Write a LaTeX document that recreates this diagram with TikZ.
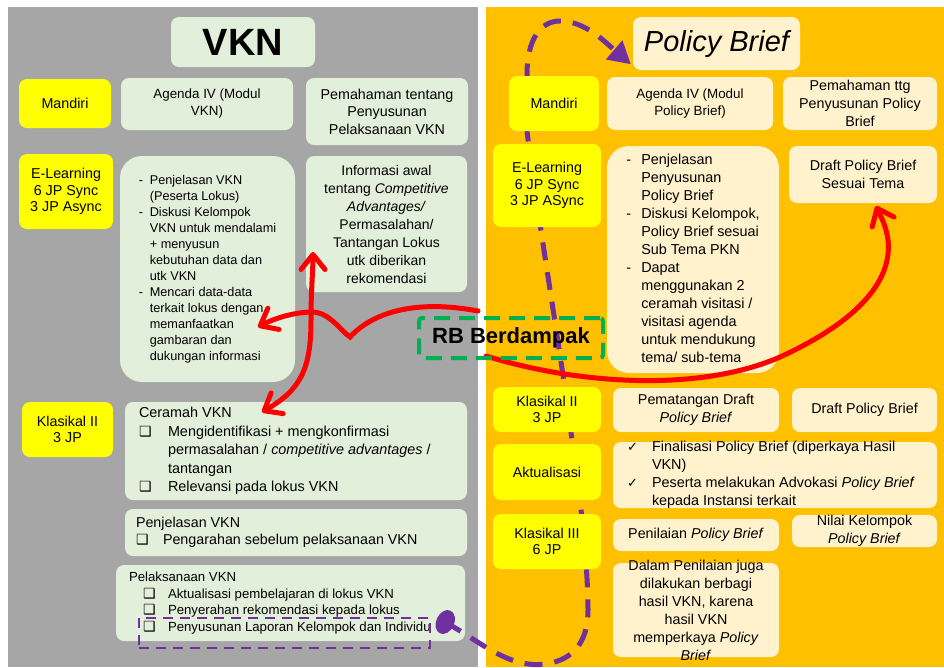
\documentclass[tikz,border=0pt]{standalone}
\usepackage{fontspec}
\setmainfont{Liberation Sans}
\newfontfamily\dejavu{DejaVu Sans}
\usetikzlibrary{arrows.meta,calc}
\definecolor{greyc}{HTML}{A6A6A6}
\definecolor{orc}{HTML}{FFC000}
\definecolor{lgc}{HTML}{E2EFDA}
\definecolor{crc}{HTML}{FFF2CC}
\definecolor{yelc}{HTML}{FFFF00}
\definecolor{purc}{HTML}{7030A0}
\definecolor{grnc}{HTML}{00B050}
\definecolor{redc}{HTML}{FF0000}
\newcommand{\fsz}[2]{\fontsize{#1}{#2}\selectfont}
\newcommand{\cbx}{{\dejavu\bfseries\fontsize{14}{14}\selectfont\char"2751}}
\newcommand{\ckm}{{\dejavu\fontsize{13}{13}\selectfont\char"2713}}
\begin{document}
\begin{tikzpicture}[x=1pt,y=-1pt]
\tikzset{
 base/.style={rounded corners=8pt, inner sep=1pt},
 ylw/.style={base, fill=yelc, align=center, font=\fsz{14.3}{16.5}},
 grn/.style={base, fill=lgc, align=center, font=\fsz{14.3}{17.5}},
 crm/.style={base, fill=crc, align=center, font=\fsz{14.3}{18}},
 grnL/.style={base, fill=lgc},
 crmL/.style={base, fill=crc},
 barb/.tip={Straight Barb[length=15pt,width=24pt,round]},
 redline/.style={draw=redc, line width=5pt, line cap=round},
 purline/.style={draw=purc, line width=5pt, dash pattern=on 18pt off 12pt, -{Triangle[length=22pt,width=24pt]}},
}
\fill[white] (0,0) rectangle (944,667);
\useasboundingbox (0,0) rectangle (944,667);
\fill[greyc] (8,7) rectangle (478,667);
\fill[orc] (486,7) rectangle (944,667);

% ---------- left panel ----------
\node[grn, minimum width=144pt, minimum height=50pt, font=\bfseries\fsz{38}{40}] (vkn) at (243,42) {VKN};
\node[ylw, minimum width=92pt, minimum height=49pt] (mandL) at (65,103.5) {Mandiri};
\node[grn, minimum width=172pt, minimum height=52pt, font=\fsz{13.4}{17}] (agL) at (207,104) {Agenda IV (Modul\\VKN)};
\node[grn, minimum width=162pt, minimum height=67pt] (pemL) at (387,111.5) {Pemahaman tentang\\Penyusunan\\Pelaksanaan VKN};
\node[ylw, minimum width=94pt, minimum height=75pt] (elL) at (66,191.5) {E-Learning\\6 JP Sync\\3 JP Async};
\node[grnL, rounded corners=22pt, minimum width=175pt, minimum height=226pt, font=\fsz{12.7}{16}] (listL) at (207.5,269) {\begin{tabular}{@{}p{11pt}@{}l@{}}
-&Penjelasan VKN\\
&(Peserta Lokus)\\
-&Diskusi Kelompok\\
&VKN untuk mendalami\\
&+ menyusun\\
&kebutuhan data dan\\
&utk VKN\\
-&Mencari data-data\\
&terkait lokus dengan\\
&memanfaatkan\\
&gambaran dan\\
&dukungan informasi
\end{tabular}};
\node[grn, minimum width=161pt, minimum height=136pt, font=\fsz{14}{18}] (infoL) at (386.5,224) {Informasi awal\\tentang \textit{Competitive}\\\textit{Advantages/}\\Permasalahan/\\Tantangan Lokus\\utk diberikan\\rekomendasi};
\node[ylw, minimum width=91pt, minimum height=55pt] (klL) at (67.5,429.5) {Klasikal II\\3 JP};
\node[grnL, minimum width=342pt, minimum height=98pt, inner ysep=-3pt, font=\fsz{14.4}{18.5}] (cerL) at (296,451) {\begin{tabular}{@{}p{29pt}@{}p{285pt}@{}}
\multicolumn{2}{@{}l@{}}{Ceramah VKN}\\
\cbx & Mengidentifikasi + mengkonfirmasi\\
& permasalahan / \textit{competitive advantages} /\\
& tantangan\\
\cbx & Relevansi pada lokus VKN
\end{tabular}};
\node[grnL, minimum width=342pt, minimum height=47pt, font=\fsz{14.3}{17}] (penjL) at (296,532.5) {\begin{tabular}{@{}p{27pt}@{}p{293pt}@{}}
\multicolumn{2}{@{}l@{}}{Penjelasan VKN}\\
\cbx & Pengarahan sebelum pelaksanaan VKN
\end{tabular}};
\node[grnL, minimum width=349pt, minimum height=76pt, font=\fsz{13.2}{16.5}] (pelL) at (290.5,603) {\begin{tabular}{@{}p{14pt}@{}p{25pt}@{}p{284pt}@{}}
\multicolumn{3}{@{}l@{}}{Pelaksanaan VKN}\\
&\cbx & Aktualisasi pembelajaran di lokus VKN\\
&\cbx & Penyerahan rekomendasi kepada lokus\\
&\cbx & Penyusunan Laporan Kelompok dan Individu
\end{tabular}};
\node[draw=purc, line width=2.5pt, dash pattern=on 10pt off 7pt, minimum width=291pt, minimum height=30pt, inner sep=0pt] (lap) at (284.5,633) {};

% ---------- right title ----------
\node[crm, minimum width=167pt, minimum height=53pt, font=\itshape\fsz{29}{32}] (pbt) at (716.5,43.5) {Policy Brief};

% ---------- purple connector ----------
\coordinate (ptail) at ($(lap.east)+(14,-11)$);
\coordinate (pend) at ($(pbt.south west)+(-2,-6)$);
\draw[purline] (ptail) -- (462,632) .. controls (490,650) and (515,668) .. (545,664) .. controls (575,660) and (588,640) .. (588,610) .. controls (588,560) and (578,480) .. (572,440) .. controls (562,360) and (535,200) .. (527,131) -- (527,75) .. controls (527,40) and (540,21) .. (560,21) .. controls (585,21) and (605,42) .. (pend);
\fill[purc, rotate around={-25:(ptail)}] (ptail) ellipse [x radius=9pt, y radius=12.5pt];

% ---------- right panel ----------
\node[ylw, minimum width=90pt, minimum height=55pt] (mandR) at (554,103.5) {Mandiri};
\node[crm, minimum width=166pt, minimum height=53pt, font=\fsz{13.4}{17}] (agR) at (690,103.5) {Agenda IV (Modul\\Policy Brief)};
\node[crm, minimum width=154pt, minimum height=53pt, inner ysep=-1pt, font=\fsz{14.3}{17.7}] (pemR) at (860,103.5) {Pemahaman ttg\\Penyusunan Policy\\Brief};
\node[ylw, minimum width=108pt, minimum height=83pt] (elR) at (547,185.5) {E-Learning\\6 JP Sync\\3 JP ASync};
\node[crmL, rounded corners=22pt, minimum width=172pt, minimum height=227pt, font=\fsz{14.4}{18}] (listR) at (693,259.5) {\begin{tabular}{@{}p{15pt}@{}l@{}}
-&Penjelasan\\
&Penyusunan\\
&Policy Brief\\
-&Diskusi Kelompok,\\
&Policy Brief sesuai\\
&Sub Tema PKN\\
-&Dapat\\
&menggunakan 2\\
&ceramah visitasi /\\
&visitasi agenda\\
&untuk mendukung\\
&tema/ sub-tema
\end{tabular}};
\node[crm, minimum width=148pt, minimum height=57pt] (draftT) at (863,174.5) {Draft Policy Brief\\Sesuai Tema};
\node[ylw, minimum width=108pt, minimum height=45pt] (klR) at (547,409.5) {Klasikal II\\3 JP};
\node[crm, minimum width=166pt, minimum height=44pt, font=\fsz{14.3}{17.5}] (pemat) at (696,410) {Pematangan Draft\\\textit{Policy Brief}};
\node[crm, minimum width=145pt, minimum height=44pt] (draft2) at (864.5,410) {Draft Policy Brief};
\node[ylw, minimum width=108pt, minimum height=56pt] (aktR) at (547,472) {Aktualisasi};
\node[crmL, minimum width=324pt, minimum height=66pt, inner ysep=-3pt, font=\fsz{14.4}{18}] (finR) at (775,475) {\begin{tabular}{@{}p{25pt}@{}p{271pt}@{}}
\ckm & Finalisasi Policy Brief (diperkaya Hasil\\
& VKN)\\
\ckm & Peserta melakukan Advokasi \textit{Policy Brief}\\
& kepada Instansi terkait
\end{tabular}};
\node[ylw, minimum width=108pt, minimum height=55pt] (kl3) at (547,541.5) {Klasikal III\\6 JP};
\node[crm, minimum width=166pt, minimum height=32pt] (penil) at (696,535) {Penilaian \textit{Policy Brief}};
\node[crm, minimum width=145pt, minimum height=32pt, inner ysep=-2.5pt] (nilai) at (864.5,531) {Nilai Kelompok\\\textit{Policy Brief}};
\node[crm, minimum width=166pt, minimum height=94pt, inner ysep=-6.5pt] (dalam) at (696,610) {Dalam Penilaian juga\\dilakukan berbagi\\hasil VKN, karena\\hasil VKN\\memperkaya \textit{Policy}\\\textit{Brief}};

% ---------- red connectors ----------
\coordinate (rl) at (478,311);
\coordinate (rr) at (486,356);
\coordinate (tMen) at (258,327);
\coordinate (tInfo) at (313,252);
\coordinate (tCer) at (262,412);
\coordinate (tDraft) at (876,206);
\draw[redline, -barb] (rl) .. controls (420,300) and (375,310) .. (350,337) .. controls (340,330) and (330,313) .. (313,312) .. controls (295,312) and (275,318) .. (tMen);
\draw[redline, barb-barb] (tCer) .. controls (300,390) and (311,370) .. (311,320) .. controls (311,290) and (313,270) .. (tInfo);
\draw[redline, -barb] (rr) .. controls (580,385) and (700,392) .. (780,357) .. controls (850,325) and (893,285) .. (888,240) .. controls (886,225) and (880,215) .. (tDraft);

% ---------- RB Berdampak ----------
\node[draw=grnc, line width=4pt, dash pattern=on 16pt off 9pt, rounded corners=3pt, minimum width=184pt, minimum height=40pt, inner sep=0pt, font=\bfseries\fsz{22}{24}] (rb) at (511,338) {RB Berdampak};
\end{tikzpicture}
\end{document}
